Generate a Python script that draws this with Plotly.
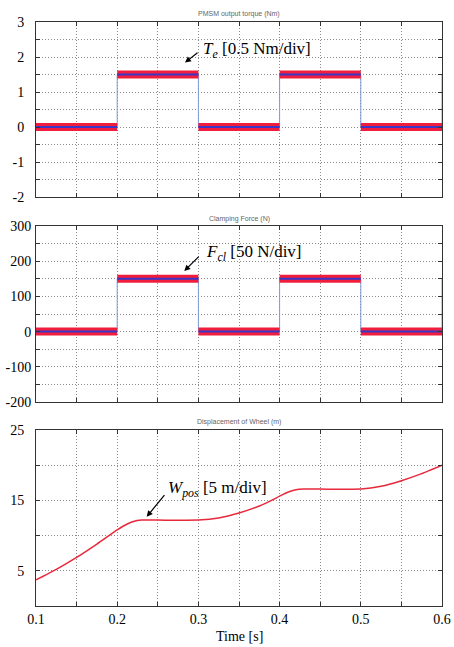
import plotly.graph_objects as go

# ---------------- data ----------------
time_edges = [0.1, 0.2, 0.3, 0.4, 0.5, 0.6]
torque_levels = [0.0, 1.5, 0.0, 1.5, 0.0]
torque_after = 1.5
force_levels = [0.0, 150.0, 0.0, 150.0, 0.0]
force_after = 150.0

pos_time = [0.10, 0.125, 0.15, 0.175, 0.20, 0.21, 0.22, 0.23, 0.25, 0.30, 0.325,
            0.35, 0.375, 0.39, 0.40, 0.41, 0.42, 0.43, 0.45, 0.50, 0.525, 0.55, 0.575, 0.60]
pos_values = [3.7, 5.2, 6.9, 8.8, 10.8, 11.5, 12.0, 12.2, 12.2, 12.2, 12.5,
              13.2, 14.2, 15.0, 15.6, 16.15, 16.5, 16.6, 16.6, 16.6, 17.0, 17.8, 18.8, 20.0]

x_tick_vals = [0.1, 0.15, 0.2, 0.25, 0.3, 0.35, 0.4, 0.45, 0.5, 0.55, 0.6]
x_tick_text = ["0.1", "", "0.2", "", "0.3", "", "0.4", "", "0.5", "", "0.6"]

torque_tick_vals = [-2, -1.5, -1, -0.5, 0, 0.5, 1, 1.5, 2, 2.5, 3]
torque_tick_text = ["-2", "", "-1", "", "0", "", "1", "", "2", "", "3"]
force_tick_vals = [-200, -150, -100, -50, 0, 50, 100, 150, 200, 250, 300]
force_tick_text = ["-200", "", "-100", "", "0", "", "100", "", "200", "", "300"]
pos_tick_vals = [0, 5, 10, 15, 20, 25]
pos_tick_text = ["", "5", "", "15", "", "25"]

panel_titles = ["PMSM output torque (Nm)", "Clamping Force (N)", "Displacement of Wheel (m)"]


def segments(edges, levels):
    xs, ys = [], []
    for i, lv in enumerate(levels):
        xs += [edges[i], edges[i + 1], None]
        ys += [lv, lv, None]
    return xs, ys


def steps(edges, levels, after):
    return list(edges), list(levels) + [after]


RED = "#f01e3c"
BLUE = "#3a36c8"
LBLUE = "#7d9bd8"

fig = go.Figure()

for (levels, after, xa, ya) in [(torque_levels, torque_after, "x", "y"),
                                (force_levels, force_after, "x2", "y2")]:
    sx, sy = steps(time_edges, levels, after)
    fig.add_trace(go.Scatter(x=sx, y=sy, mode="lines", line=dict(color=LBLUE, width=1, shape="hv"),
                             xaxis=xa, yaxis=ya, showlegend=False, hoverinfo="skip"))
    bx, by = segments(time_edges, levels)
    fig.add_trace(go.Scatter(x=bx, y=by, mode="lines", line=dict(color=RED, width=8),
                             xaxis=xa, yaxis=ya, showlegend=False, hoverinfo="skip"))
    fig.add_trace(go.Scatter(x=bx, y=by, mode="lines", line=dict(color=BLUE, width=2),
                             xaxis=xa, yaxis=ya, showlegend=False, hoverinfo="skip"))

fig.add_trace(go.Scatter(x=pos_time, y=pos_values, mode="lines",
                         line=dict(color="#e8283c", width=1.5, shape="spline", smoothing=0.5),
                         xaxis="x3", yaxis="y3", showlegend=False, hoverinfo="skip"))

tick_font = dict(family="Liberation Serif", size=14, color="black")
common_axis = dict(showline=True, mirror="ticks", linecolor="#333", linewidth=1,
                   ticks="inside", ticklen=4, tickcolor="#333", automargin=False,
                   showgrid=True, gridcolor="#8a8a8a", griddash="1px,2px", gridwidth=1,
                   zeroline=False, tickfont=tick_font)

domains = [[0.7003, 1.0], [0.3493, 0.6507], [0.0, 0.3014]]

layout = dict(width=454, height=647, margin=dict(l=36, r=12, t=22, b=41),
              paper_bgcolor="white", plot_bgcolor="white", showlegend=False)

for i, (ax, ay) in enumerate([("xaxis", "yaxis"), ("xaxis2", "yaxis2"), ("xaxis3", "yaxis3")]):
    anchor_y = "y" if i == 0 else f"y{i+1}"
    anchor_x = "x" if i == 0 else f"x{i+1}"
    layout[ax] = dict(common_axis, domain=[0, 1], anchor=anchor_y, range=[0.1, 0.6],
                      tickmode="array", tickvals=x_tick_vals,
                      ticktext=x_tick_text if i == 2 else [""] * len(x_tick_vals))
    if i == 0:
        layout[ay] = dict(common_axis, domain=domains[0], anchor=anchor_x, range=[-2, 3],
                          tickmode="array", tickvals=torque_tick_vals, ticktext=torque_tick_text,
                          ticklabelstandoff=8)
    elif i == 1:
        layout[ay] = dict(common_axis, domain=domains[1], anchor=anchor_x, range=[-200, 300],
                          tickmode="array", tickvals=force_tick_vals, ticktext=force_tick_text,
                          ticklabelstandoff=1)
    else:
        layout[ay] = dict(common_axis, domain=domains[2], anchor=anchor_x, range=[0, 25],
                          tickmode="array", tickvals=pos_tick_vals, ticktext=pos_tick_text,
                          ticklabelstandoff=8)

fig.update_layout(**layout)

ann_font = dict(family="Liberation Serif", size=17, color="black")
title_font = dict(family="Liberation Sans", size=7, color="#666")

annotations = []
# panel titles
for txt, yp in zip(panel_titles, [1.0137, 0.6627, 0.3151]):
    annotations.append(dict(text=txt, xref="paper", yref="paper", x=0.5, y=yp,
                            xanchor="center", yanchor="middle", showarrow=False, font=title_font))
# x axis title
annotations.append(dict(text="Time [s]", xref="paper", yref="paper", x=0.5, y=-0.053,
                        xanchor="center", yanchor="middle", showarrow=False,
                        font=dict(family="Liberation Serif", size=14, color="black")))

# arrows + labels
arrow_specs = [
    ("x", "y", 0.2835, 1.84, 14, -11, 0.303, 2.2, "<i>T<sub>e</sub></i> [0.5 Nm/div]"),
    ("x2", "y2", 0.2826, 172, 16, -16, 0.307, 223, "<i>F<sub>cl</sub></i> [50 N/div]"),
    ("x3", "y3", 0.2363, 12.68, 19, -23, 0.260, 16.6, "<i>W<sub>pos</sub></i> [5 m/div]"),
]
for xr, yr, tx, ty, axp, ayp, lx, ly, label in arrow_specs:
    annotations.append(dict(text="", xref=xr, yref=yr, x=tx, y=ty, ax=axp, ay=ayp,
                            showarrow=True, arrowhead=2, arrowsize=1, arrowwidth=1.2,
                            arrowcolor="black", standoff=0))
    annotations.append(dict(text=label, xref=xr, yref=yr, x=lx, y=ly, xanchor="left",
                            yanchor="middle", showarrow=False, font=ann_font))

fig.update_layout(annotations=annotations)

fig.write_html("out.html", config={"displayModeBar": False},
               post_script="document.body.style.margin='0';")
